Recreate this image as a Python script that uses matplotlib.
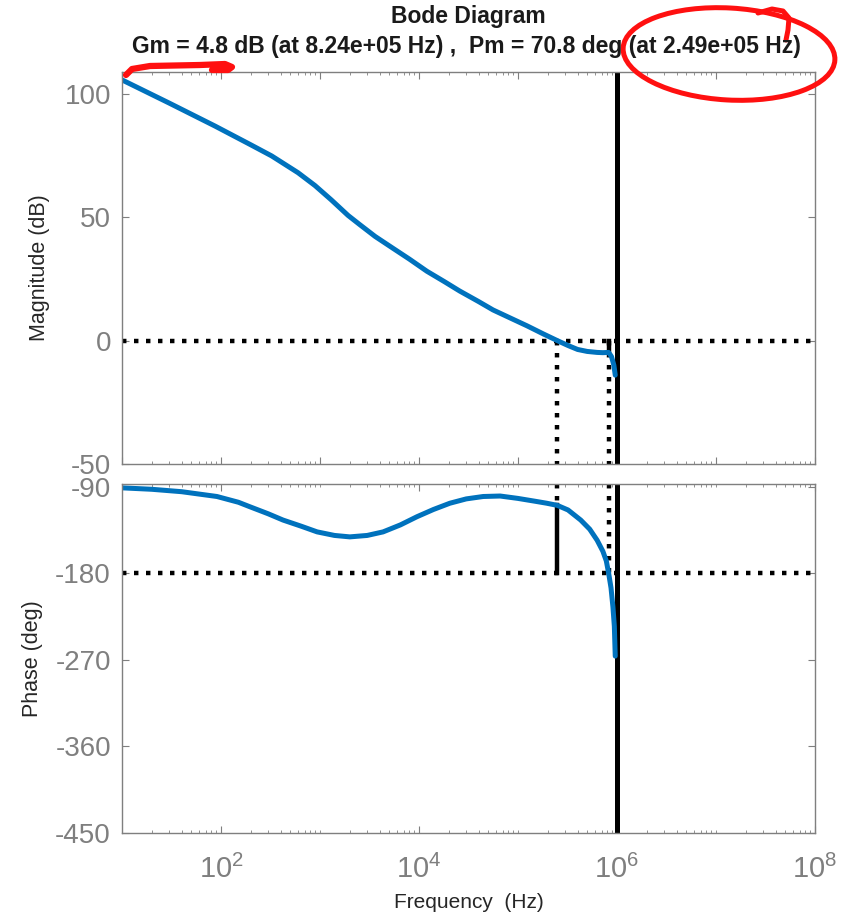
import numpy as np
import matplotlib
matplotlib.use("Agg")
import matplotlib.pyplot as plt
from matplotlib.lines import Line2D
from matplotlib.patches import Ellipse
from matplotlib.ticker import LogLocator, NullFormatter, FixedLocator, FixedFormatter

plt.rcParams['font.family'] = ['Liberation Sans', 'DejaVu Sans']
plt.rcParams['axes.unicode_minus'] = False
plt.rcParams['mathtext.fontset'] = 'custom'
plt.rcParams['mathtext.rm'] = 'Liberation Sans'

# -------------------------------------------------
# Data
# -------------------------------------------------
mag_freq = [10, 30, 87, 200, 325, 600, 890, 1300, 1920, 2535, 3600, 5500, 8000,
            1.2e4, 1.8e4, 2.57e4, 4e4, 5.6e4, 8.5e4, 1.23e5, 1.8e5, 2.49e5, 3.2e5,
            4e5, 5e5, 6.3e5, 7.2e5, 8.24e5, 8.8e5, 9.3e5, 9.6e5]
mag_db = [105.6, 96.2, 86.9, 79.3, 74.8, 68.0, 62.8, 57.0, 50.7, 46.9, 42.2, 37.3, 33.0,
          28.1, 23.9, 20.1, 15.8, 12.4, 9.0, 6.0, 2.7, 0.0, -2.0,
          -3.6, -4.4, -4.8, -4.9, -4.8, -6.5, -10.0, -14.0]

phase_freq = [10, 20, 40, 91, 150, 195, 300, 423, 650, 935, 1400, 2000, 3000, 4340,
              6500, 9550, 1.4e4, 2.05e4, 3e4, 4.45e4, 6.6e4, 1e5, 1.5e5, 1.95e5,
              2.49e5, 3.2e5, 4.3e5, 5.3e5, 6.3e5, 7.2e5, 7.8e5, 8.24e5, 8.7e5,
              9.1e5, 9.4e5, 9.6e5]
phase_deg = [-91, -92.5, -95, -100, -106, -110.6, -118, -124.5, -131, -136.8, -140.5, -142,
             -140.5, -136.8, -129.5, -121, -113.5, -107, -102.5, -100, -99.5, -102, -105,
             -107, -109.2, -114, -124.5, -134, -145.5, -157, -167, -180, -195,
             -215, -235, -266]

GM_DB = 4.8
GM_FREQ = 8.24e5
PM_DEG = 70.8
PM_FREQ = 2.49e5
EDGE_FREQ = 1e6   # full-height black line

mag_ticks = [-50, 0, 50, 100]
phase_ticks = [-450, -360, -270, -180, -90]
freq_exps = [2, 4, 6, 8]

BLUE = "#0072BD"
GREY = "#7f7f7f"
TXT = "#262626"
DOT = (0, (1, 1.7))

W, H = 856, 922


def px(x, y):
    return x / W, 1 - y / H


fig = plt.figure(figsize=(W / 100, H / 100), dpi=100)
ax_m = fig.add_axes([122 / W, 1 - 464 / H, 693 / W, 392 / H])
ax_p = fig.add_axes([122 / W, 1 - 833 / H, 693 / W, 349 / H])

for ax in (ax_m, ax_p):
    ax.set_xscale("log")
    ax.set_xlim(10, 1e8)
    ax.xaxis.set_major_locator(LogLocator(base=10, numticks=20))
    ax.xaxis.set_minor_locator(LogLocator(base=10, subs=np.arange(2, 10), numticks=20))
    ax.xaxis.set_minor_formatter(NullFormatter())
    ax.tick_params(which="both", direction="in", top=True, right=True, color=GREY)
    ax.tick_params(which="major", length=5, width=0.8, labelsize=20, labelcolor=GREY, pad=8)
    ax.tick_params(which="minor", length=2.5, width=0.6)
    for s in ax.spines.values():
        s.set_color(GREY)
        s.set_linewidth(1.0)

# ---- magnitude ----
ax_m.set_ylim(-50, 108.8)
ax_m.yaxis.set_major_locator(FixedLocator(mag_ticks))
ax_m.tick_params(axis="x", labelbottom=False)
ax_m.axhline(0, color="black", lw=3.2, ls=DOT, dash_capstyle="butt")
ax_m.plot([PM_FREQ, PM_FREQ], [0, -50], color="black", lw=3.2, ls=DOT, dash_capstyle="butt")
ax_m.plot([GM_FREQ, GM_FREQ], [0, -50], color="black", lw=3.2, ls=DOT, dash_capstyle="butt")
ax_m.plot([GM_FREQ, GM_FREQ], [0, -GM_DB], color="black", lw=3.2)
ax_m.axvline(EDGE_FREQ, color="black", lw=3.6)
ax_m.plot(mag_freq, mag_db, color=BLUE, lw=3.6, solid_capstyle="round", solid_joinstyle="round")
ax_m.set_ylabel("Magnitude (dB)", fontsize=15.5, color=TXT)
ax_m.yaxis.set_label_coords(-0.104, 0.5)

# ---- phase ----
ax_p.set_ylim(-450, -87)
ax_p.yaxis.set_major_locator(FixedLocator(phase_ticks))
ax_p.xaxis.set_major_locator(FixedLocator([10.0 ** e for e in freq_exps]))
ax_p.xaxis.set_major_formatter(FixedFormatter([rf"$\mathregular{{10^{{{e}}}}}$" for e in freq_exps]))
ax_p.tick_params(axis="x", which="major", labelsize=21, pad=16)
ax_p.xaxis.set_minor_locator(LogLocator(base=10, subs=np.arange(1, 10), numticks=20))
ax_p.axhline(-180, color="black", lw=3.2, ls=DOT, dash_capstyle="butt")
ax_p.plot([PM_FREQ, PM_FREQ], [-87, -180 + PM_DEG], color="black", lw=3.2, ls=DOT, dash_capstyle="butt")
ax_p.plot([PM_FREQ, PM_FREQ], [-180 + PM_DEG, -180], color="black", lw=3.2)
ax_p.plot([GM_FREQ, GM_FREQ], [-87, -180], color="black", lw=3.2, ls=DOT, dash_capstyle="butt")
ax_p.axvline(EDGE_FREQ, color="black", lw=3.6)
ax_p.plot(phase_freq, phase_deg, color=BLUE, lw=3.6, solid_capstyle="round", solid_joinstyle="round")
ax_p.set_ylabel("Phase (deg)", fontsize=15.5, color=TXT)
ax_p.yaxis.set_label_coords(-0.114, 0.5)
ax_p.set_xlabel("Frequency  (Hz)", fontsize=15, color=TXT, labelpad=6)

# ---- title ----
fig.text(*px(468, 17), "Bode Diagram", ha="center", va="center",
         fontsize=16.5, fontweight="bold", color="#1a1a1a")
fig.text(*px(466, 47),
         f"Gm = {GM_DB} dB (at {GM_FREQ:.2e} Hz) ,  Pm = {PM_DEG} deg (at {PM_FREQ:.2e} Hz)",
         ha="center", va="center", fontsize=16.5, fontweight="bold", color="#1a1a1a")

# ---- red hand-drawn marks ----
RED = "#ff1010"
fig.add_artist(Ellipse(px(729, 54), 212 / W, 92 / H, angle=-3, fill=False,
                       edgecolor=RED, lw=3.6, transform=fig.transFigure))
hook = np.array([(758, 13), (772, 9), (783, 11), (789, 18), (788, 30), (786, 40)])
fig.add_artist(Line2D(hook[:, 0] / W, 1 - hook[:, 1] / H, color=RED, lw=3.6,
                      solid_capstyle="round", solid_joinstyle="round", transform=fig.transFigure))
under = np.array([(126, 75), (132, 69), (150, 66), (200, 65), (225, 64), (232, 67), (228, 70), (212, 70)])
fig.add_artist(Line2D(under[:, 0] / W, 1 - under[:, 1] / H, color=RED, lw=4.5,
                      solid_capstyle="round", solid_joinstyle="round", transform=fig.transFigure))

fig.savefig("out.png", dpi=100)
